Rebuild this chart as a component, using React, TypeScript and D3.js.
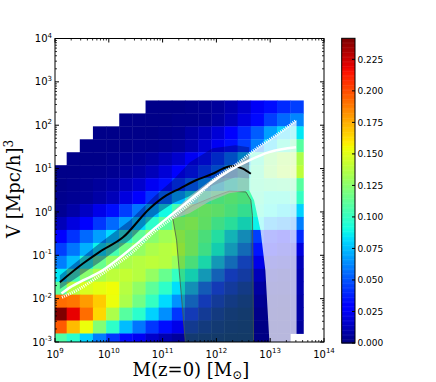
import React from 'react';
import * as d3 from 'd3';

// log10 bin edges of the 2D histogram
const xEdges = [8.972, 9.217, 9.461, 9.705, 9.95, 10.194, 10.438, 10.683, 10.927, 11.172, 11.416, 11.661, 11.905, 12.149, 12.394, 12.638, 12.883, 13.127, 13.372, 13.616];
const yEdges = [2.571, 2.272, 1.974, 1.675, 1.377, 1.078, 0.779, 0.481, 0.182, -0.116, -0.415, -0.715, -1.012, -1.311, -1.609, -1.908, -2.207, -2.505, -2.804, -3.102];

const N = null;
// rows from top (high V) to bottom, columns from low to high mass
const density = [
  [N, N, N, N, N, N, N, 0.002, 0.002, 0.002, 0.003, 0.004, 0.006, 0.01, 0.016, 0.025, 0.033, 0.04, 0.045],
  [N, N, N, N, N, 0.002, 0.002, 0.002, 0.002, 0.003, 0.003, 0.004, 0.007, 0.012, 0.02, 0.032, 0.045, 0.055, 0.062],
  [N, N, N, 0.002, 0.002, 0.002, 0.002, 0.002, 0.003, 0.004, 0.008, 0.012, 0.018, 0.028, 0.04, 0.052, 0.068, 0.08, 0.085],
  [N, N, 0.002, 0.002, 0.002, 0.002, 0.003, 0.003, 0.004, 0.006, 0.01, 0.016, 0.024, 0.034, 0.045, 0.06, 0.08, 0.098, 0.11],
  [N, 0.002, 0.002, 0.002, 0.003, 0.004, 0.005, 0.007, 0.011, 0.016, 0.024, 0.034, 0.046, 0.06, 0.078, 0.1, 0.122, 0.132, 0.135],
  [0.002, 0.002, 0.003, 0.003, 0.004, 0.006, 0.008, 0.012, 0.018, 0.027, 0.036, 0.046, 0.058, 0.072, 0.088, 0.105, 0.125, 0.135, 0.14],
  [0.002, 0.003, 0.004, 0.006, 0.008, 0.012, 0.016, 0.024, 0.033, 0.045, 0.057, 0.07, 0.08, 0.09, 0.1, 0.105, 0.108, 0.11, 0.11],
  [0.003, 0.004, 0.005, 0.008, 0.012, 0.02, 0.03, 0.042, 0.058, 0.075, 0.088, 0.1, 0.11, 0.115, 0.11, 0.102, 0.095, 0.095, 0.1],
  [0.004, 0.008, 0.014, 0.022, 0.033, 0.045, 0.058, 0.075, 0.09, 0.105, 0.12, 0.122, 0.118, 0.11, 0.1, 0.098, 0.09, 0.085, 0.08],
  [0.012, 0.02, 0.03, 0.043, 0.055, 0.068, 0.082, 0.097, 0.112, 0.126, 0.13, 0.12, 0.105, 0.095, 0.085, 0.088, 0.07, 0.065, 0.06],
  [0.03, 0.042, 0.055, 0.068, 0.082, 0.098, 0.112, 0.125, 0.132, 0.135, 0.125, 0.11, 0.092, 0.075, 0.06, 0.045, 0.035, 0.03, 0.04],
  [0.045, 0.058, 0.072, 0.088, 0.105, 0.118, 0.128, 0.135, 0.138, 0.14, 0.125, 0.105, 0.085, 0.065, 0.048, 0.035, 0.025, 0.02, 0.02],
  [0.06, 0.075, 0.095, 0.115, 0.128, 0.135, 0.138, 0.14, 0.138, 0.13, 0.11, 0.088, 0.065, 0.048, 0.033, 0.022, 0.015, 0.012, 0.012],
  [0.085, 0.105, 0.125, 0.135, 0.14, 0.142, 0.138, 0.128, 0.115, 0.1, 0.085, 0.065, 0.045, 0.03, 0.02, 0.012, 0.008, 0.006, 0.01],
  [0.112, 0.138, 0.148, 0.152, 0.155, 0.138, 0.127, 0.112, 0.098, 0.083, 0.062, 0.042, 0.028, 0.018, 0.011, 0.007, 0.005, 0.004, 0.01],
  [0.192, 0.19, 0.18, 0.168, 0.154, 0.135, 0.118, 0.1, 0.082, 0.065, 0.045, 0.028, 0.017, 0.01, 0.006, 0.004, 0.003, 0.002, 0.008],
  [0.2417, 0.22, 0.192, 0.165, 0.135, 0.11, 0.097, 0.08, 0.064, 0.043, 0.028, 0.016, 0.009, 0.005, 0.003, 0.002, 0.002, 0.001, 0.008],
  [0.197, 0.172, 0.154, 0.123, 0.098, 0.075, 0.058, 0.043, 0.033, 0.022, 0.014, 0.008, 0.005, 0.003, 0.002, 0.001, 0.001, 0.001, 0.006],
  [0.108, 0.097, 0.08, 0.06, 0.043, 0.032, 0.024, 0.016, 0.01, 0.006, 0.004, 0.003, 0.002, 0.001, 0.001, 0.001, 0.001, 0.001, N],
];

// curves, [log10 M, log10 V]
const blackLine = [[9.09, -1.62], [9.52, -1.19], [9.83, -0.92], [10.27, -0.58], [10.76, 0.08], [11.07, 0.38], [11.32, 0.54], [11.62, 0.73], [11.93, 0.88], [12.12, 1.0], [12.3, 1.06], [12.49, 1.0], [12.64, 0.88]];
const whiteLine = [[9.12, -1.88], [9.28, -1.74], [9.52, -1.58], [9.83, -1.39], [10.14, -1.12], [10.45, -0.81], [10.88, -0.35], [11.19, -0.04], [11.5, 0.27], [11.87, 0.64], [12.24, 0.95], [12.61, 1.19], [12.98, 1.38], [13.48, 1.49]];
const dottedLine = [[9.13, -1.97], [9.46, -1.77], [9.93, -1.38], [10.39, -0.98], [10.85, -0.45], [11.22, -0.1], [11.59, 0.3], [11.99, 0.78], [12.43, 1.15], [12.74, 1.46], [13.11, 1.77], [13.48, 2.11]];
const navyUpper = [[9.09, -1.46], [9.83, -0.72], [10.39, -0.2], [10.85, 0.36], [11.19, 0.73], [11.5, 1.14], [11.93, 1.47], [12.35, 1.54], [12.61, 1.49]];
const navyLower = [[9.09, -1.78], [9.83, -1.16], [10.39, -0.65], [10.85, -0.08], [11.19, 0.2], [11.5, 0.36], [11.93, 0.61], [12.35, 0.8], [12.61, 0.77]];
const grayUpper = [[11.15, -0.08], [11.19, 0.01], [11.5, 0.36], [11.87, 0.71], [12.24, 1.01], [12.43, 1.15], [12.61, 1.33]];
const grayLower = [[11.19, -0.17], [11.5, -0.03], [11.87, 0.24], [12.24, 0.43], [12.61, 0.5]];
const greenPoly = [[11.19, -0.15], [11.56, 0.15], [11.93, 0.34], [12.24, 0.48], [12.55, 0.46], [12.64, 0.27], [12.67, -0.08], [12.68, -1.12], [12.69, -3.1], [11.43, -3.1], [11.26, -0.65]];
const whitePoly = [[12.61, 1.33], [12.74, 1.46], [13.11, 1.77], [13.48, 2.11], [13.49, 2.12], [13.49, -3.1], [12.99, -3.1], [12.91, -1.35], [12.82, -0.42], [12.7, 0.27], [12.61, 0.5]];

const xDecades = [9, 10, 11, 12, 13, 14];
const yDecades = [-3, -2, -1, 0, 1, 2, 3, 4];
const cbTicks = [0, 0.025, 0.05, 0.075, 0.1, 0.125, 0.15, 0.175, 0.2, 0.225];
const vmax = 0.2417;

const L = 55, R = 324, T = 38.5, B = 342;
const x = d3.scaleLog().domain([1e9, 1e14]).range([L, R]);
const y = d3.scaleLog().domain([1e-3, 1e4]).range([B, T]);
const px = (d) => x(Math.pow(10, d[0]));
const py = (d) => y(Math.pow(10, d[1]));

const jetR = d3.scaleLinear().domain([0, 0.35, 0.66, 0.89, 1]).range([0, 0, 1, 1, 0.5]).clamp(true);
const jetG = d3.scaleLinear().domain([0, 0.125, 0.375, 0.64, 0.91, 1]).range([0, 0, 1, 1, 0, 0]).clamp(true);
const jetB = d3.scaleLinear().domain([0, 0.11, 0.34, 0.65, 1]).range([0.5, 1, 1, 0, 0]).clamp(true);
const jet = (t) => d3.rgb(255 * jetR(t), 255 * jetG(t), 255 * jetB(t)).toString();

const line = d3.line().x(px).y(py).curve(d3.curveMonotoneX);
const poly = (pts) => d3.line().x(px).y(py)(pts) + 'Z';
const band = (up, lo) => poly([...up, ...lo.slice().reverse()]);

const cbX0 = 341.7, cbX1 = 355, cbTop = 38.3, cbBot = 343;
const cb = d3.scaleLinear().domain([0, vmax]).range([cbBot, cbTop]);

export default function App() {
  const cells = [];
  density.forEach((row, r) => {
    row.forEach((v, c) => {
      if (v === null) return;
      const x0 = x(Math.pow(10, xEdges[c]));
      const x1 = x(Math.pow(10, xEdges[c + 1]));
      const y0 = y(Math.pow(10, yEdges[r]));
      const y1 = y(Math.pow(10, yEdges[r + 1]));
      cells.push(<rect key={r + '-' + c} x={x0} y={y0} width={x1 - x0 + 0.4} height={y1 - y0 + 0.4} fill={jet(v / vmax)} />);
    });
  });

  const ticks = [];
  xDecades.forEach((d) => {
    const xx = x(Math.pow(10, d));
    ticks.push(<line key={'xb' + d} x1={xx} x2={xx} y1={B} y2={B - 4} stroke="#000" />);
    ticks.push(<line key={'xt' + d} x1={xx} x2={xx} y1={T} y2={T + 4} stroke="#000" />);
    if (d < 14) {
      for (let m = 2; m < 10; m++) {
        const xm = x(m * Math.pow(10, d));
        ticks.push(<line key={'xmb' + d + m} x1={xm} x2={xm} y1={B} y2={B - 2} stroke="#000" strokeWidth={0.8} />);
        ticks.push(<line key={'xmt' + d + m} x1={xm} x2={xm} y1={T} y2={T + 2} stroke="#000" strokeWidth={0.8} />);
      }
    }
  });
  yDecades.forEach((d) => {
    const yy = y(Math.pow(10, d));
    ticks.push(<line key={'yl' + d} x1={L} x2={L + 4} y1={yy} y2={yy} stroke="#000" />);
    ticks.push(<line key={'yr' + d} x1={R} x2={R - 4} y1={yy} y2={yy} stroke="#000" />);
    if (d < 4) {
      for (let m = 2; m < 10; m++) {
        const ym = y(m * Math.pow(10, d));
        ticks.push(<line key={'yml' + d + m} x1={L} x2={L + 2} y1={ym} y2={ym} stroke="#000" strokeWidth={0.8} />);
        ticks.push(<line key={'ymr' + d + m} x1={R} x2={R - 2} y1={ym} y2={ym} stroke="#000" strokeWidth={0.8} />);
      }
    }
  });

  const cbSlices = d3.range(0, 240).map((i) => {
    const v0 = (i / 240) * vmax;
    const v1 = ((i + 1) / 240) * vmax;
    return <rect key={'cb' + i} x={cbX0} y={cb(v1)} width={cbX1 - cbX0} height={cb(v0) - cb(v1) + 0.5} fill={jet(i / 239)} />;
  });

  return (
    <div style={{ position: 'absolute', left: 0, top: 0 }}>
      <svg width={436} height={382} style={{ display: 'block', background: '#fff' }}>
        <defs>
          <clipPath id="plotClip">
            <rect x={L} y={T} width={R - L} height={B - T} />
          </clipPath>
        </defs>
        <g clipPath="url(#plotClip)">
          {cells}
          <path d={poly(greenPoly)} fill="#35a035" fillOpacity={0.36} stroke="#4a5a4a" strokeWidth={0.8} />
          <path d={band(navyUpper, navyLower)} fill="#000060" fillOpacity={0.38} stroke="none" />
          <path d={band(grayUpper, grayLower)} fill="#b9b9b9" fillOpacity={0.68} stroke="none" />
          <path d={poly(whitePoly)} fill="#ffffff" fillOpacity={0.72} stroke="none" />
          <path d={line(blackLine)} fill="none" stroke="#000" strokeWidth={2} />
          <path d={line(dottedLine)} fill="none" stroke="#fff" strokeWidth={3} strokeDasharray="1,1.2" />
          <path d={line(whiteLine)} fill="none" stroke="#fff" strokeWidth={2.5} />
        </g>
        <rect x={L} y={T} width={R - L} height={B - T} fill="none" stroke="#000" strokeWidth={1} />
        {ticks}
        {xDecades.map((d) => (
          <text key={'xl' + d} x={x(Math.pow(10, d))} y={357.5} textAnchor="middle" fontFamily="DejaVu Sans" fontSize={10}>
            <tspan>10</tspan>
            <tspan dy={-4.5} fontSize={7}>{d}</tspan>
          </text>
        ))}
        {yDecades.map((d) => (
          <text key={'yl' + d} x={52} y={y(Math.pow(10, d)) + 3.6} textAnchor="end" fontFamily="DejaVu Sans" fontSize={10}>
            <tspan>10</tspan>
            <tspan dy={-4.5} fontSize={7}>{d}</tspan>
          </text>
        ))}
        <text x={191} y={376} textAnchor="middle" fontFamily="DejaVu Serif" fontSize={18}>
          <tspan>M(z=0) [M</tspan>
          <tspan dy={2.5} fontSize={12}>⊙</tspan>
          <tspan dy={-2.5}>]</tspan>
        </text>
        <text transform="translate(20,189) rotate(-90)" textAnchor="middle" fontFamily="DejaVu Serif" fontSize={18}>
          <tspan>V [Mpc/h]</tspan>
          <tspan dy={-7} fontSize={12}>3</tspan>
        </text>
        {cbSlices}
        <rect x={cbX0} y={cbTop} width={cbX1 - cbX0} height={cbBot - cbTop} fill="none" stroke="#000" strokeWidth={1} />
        {cbTicks.map((t) => (
          <g key={'cbt' + t}>
            <line x1={cbX1} x2={cbX1 - 3} y1={cb(t)} y2={cb(t)} stroke="#000" />
            <text x={357.5} y={cb(t) + 3.2} fontFamily="DejaVu Sans" fontSize={9}>{t.toFixed(3)}</text>
          </g>
        ))}
      </svg>
    </div>
  );
}
